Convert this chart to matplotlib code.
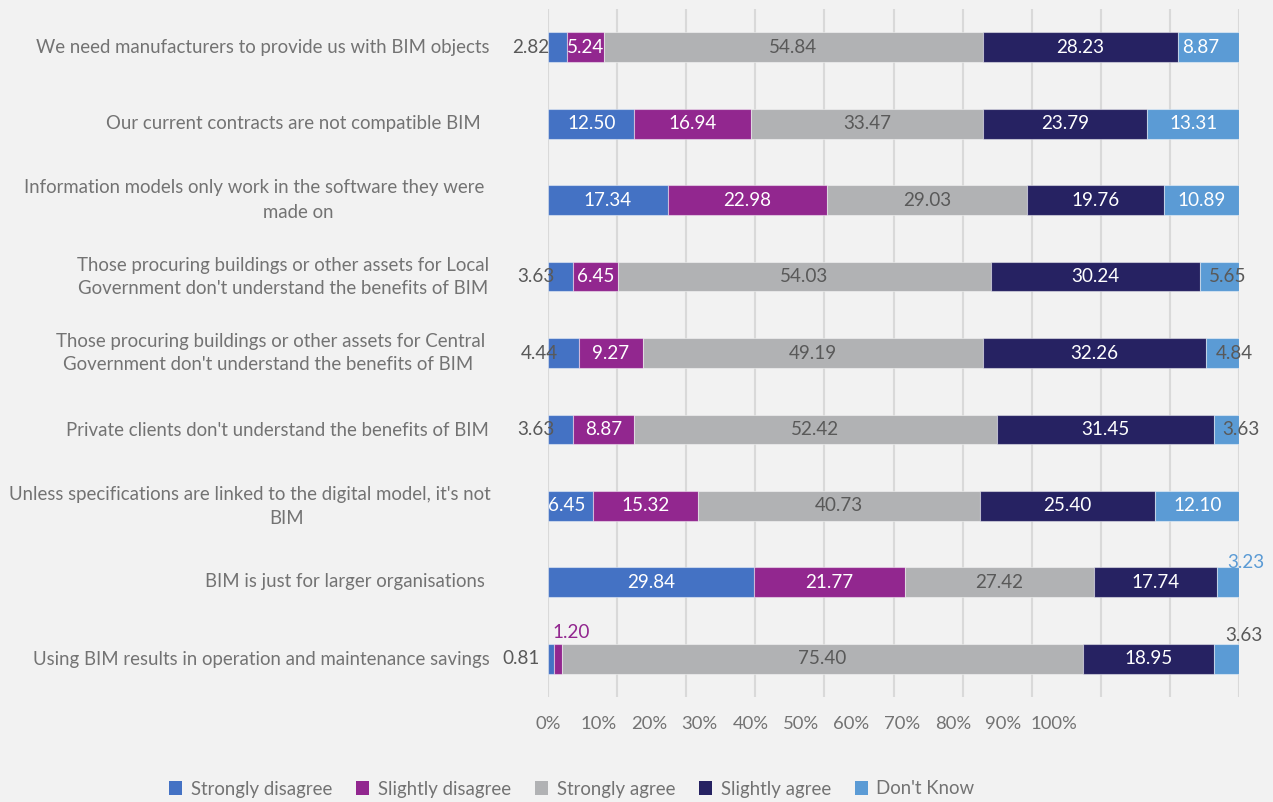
import numpy as np
import matplotlib
matplotlib.use("Agg")
import matplotlib.pyplot as plt
from matplotlib.patches import Patch

plt.rcParams['font.family'] = ['Lato', 'DejaVu Sans']

# ---- data -------------------------------------------------------------
categories = [
    "We need manufacturers to provide us with BIM objects",
    "Our current contracts are not compatible BIM",
    "Information models only work in the software they were\nmade on",
    "Those procuring buildings or other assets for Local\nGovernment don't understand the benefits of BIM",
    "Those procuring buildings or other assets for Central\nGovernment don't understand the benefits of BIM",
    "Private clients don't understand the benefits of BIM",
    "Unless specifications are linked to the digital model, it's not\nBIM",
    "BIM is just for larger organisations",
    "Using BIM results in operation and maintenance savings",
]
series_names = ["Strongly disagree", "Slightly disagree", "Strongly agree",
                "Slightly agree", "Don't Know"]
strongly_disagree = [2.82, 12.50, 17.34, 3.63, 4.44, 3.63, 6.45, 29.84, 0.81]
slightly_disagree = [5.24, 16.94, 22.98, 6.45, 9.27, 8.87, 15.32, 21.77, 1.20]
strongly_agree = [54.84, 33.47, 29.03, 54.03, 49.19, 52.42, 40.73, 27.42, 75.40]
slightly_agree = [28.23, 23.79, 19.76, 30.24, 32.26, 31.45, 25.40, 17.74, 18.95]
dont_know = [8.87, 13.31, 10.89, 5.65, 4.84, 3.63, 12.10, 3.23, 3.63]
tick_labels = ["0%", "10%", "20%", "30%", "40%", "50%", "60%", "70%", "80%", "90%", "100%"]

# ---- styling ----------------------------------------------------------
W, H = 1273, 802
BG = "#F2F2F2"
GRID = "#D9D9D9"
TEXT = "#737373"
DARK = "#595959"
colors = ["#4472C4", "#92278F", "#B1B2B4", "#262262", "#5B9BD5"]
label_colors = ["white", "white", DARK, "white", "white"]

fig = plt.figure(figsize=(W / 100, H / 100), dpi=100, facecolor=BG)


def fx(px):
    return px / W


def fy(py):
    return 1 - py / H


# plot area in pixel terms
x0, x1, y0, y1 = 548, 1239, 9, 697
ax = fig.add_axes([fx(x0), fy(y1), fx(x1 - x0), (y1 - y0) / H], facecolor=BG)

values = np.array([strongly_disagree, slightly_disagree, strongly_agree,
                   slightly_agree, dont_know])
n = len(categories)
ypos = np.arange(n)
left = np.zeros(n)
bars = []
for k in range(values.shape[0]):
    ax.barh(ypos, values[k], left=left, height=0.39, color=colors[k],
            edgecolor=(1, 1, 1, 0.45), linewidth=0.8, zorder=2)
    bars.append((left.copy(), values[k]))
    left = left + values[k]

ax.set_xlim(0, 100)
ax.set_ylim(n - 0.5, -0.5)
ax.set_xticks(np.arange(0, 101, 10))
ax.set_yticks([])
ax.xaxis.grid(True, color=GRID, linewidth=1.5, zorder=0)
ax.set_axisbelow(True)
ax.tick_params(axis='x', length=0, labelbottom=False)
for s in ax.spines.values():
    s.set_visible(False)

# data labels; a few small segments get their label nudged (offsets in px)
nudges = {
    (0, 0): (-27, 0, DARK),
    (0, 4): (-8, 0, "white"),
    (3, 0): (-25, 0, DARK),
    (3, 4): (8, 0, DARK),
    (4, 0): (-24, 0, DARK),
    (4, 4): (12, 0, DARK),
    (5, 0): (-25, 0, DARK),
    (5, 4): (14, 0, DARK),
    (6, 0): (-4, 0, "white"),
    (7, 4): (18, 20, colors[4]),
    (8, 0): (-30, 0, DARK),
    (8, 1): (13, 26, colors[1]),
    (8, 4): (17, 23, DARK),
}
LBL_SIZE = 13.6
for k, (lft, vals) in enumerate(bars):
    for i in range(n):
        xc = lft[i] + vals[i] / 2
        dx, dy, col = nudges.get((i, k), (0, 0, label_colors[k]))
        ax.annotate(f"{vals[i]:.2f}", xy=(xc, i), xytext=(dx * 0.72, dy * 0.72),
                    textcoords="offset points", ha="center", va="center",
                    color=col, fontsize=LBL_SIZE, zorder=5, annotation_clip=False)

# category labels (line placement: x anchor px, alignment)
CAT_SIZE = 13.4
row_y = [47, 124, 200, 277, 353, 430, 506, 582, 659]
line_layout = {
    0: [(490, "right")],
    1: [(481, "right")],
    2: [(484, "right"), (298, "center")],
    3: [(283, "center"), (283, "center")],
    4: [(271, "center"), (268, "center")],
    5: [(489, "right")],
    6: [(250, "center"), (287, "center")],
    7: [(485, "right")],
    8: [(490, "right")],
}
for i, label in enumerate(categories):
    lines = label.split("\n")
    for j, line in enumerate(lines):
        xa, ha = line_layout[i][j]
        yy = row_y[i] if len(lines) == 1 else row_y[i] + (j - 0.5) * 24
        fig.text(fx(xa), fy(yy), line, ha=ha, va="center", color=TEXT,
                 fontsize=CAT_SIZE)

# percentage scale labels under the plot
ax2 = fig.add_axes([fx(548), fy(724), fx(1054 - 548), 0.0001])
ax2.set_xlim(0, 1)
ax2.set_xticks(np.linspace(0, 1, len(tick_labels)))
ax2.set_xticklabels(tick_labels)
ax2.set_yticks([])
ax2.tick_params(axis='x', length=0, pad=0, labelsize=13.3, labelcolor=TEXT)
plt.setp(ax2.get_xticklabels(), va="center")
ax2.patch.set_visible(False)
for s in ax2.spines.values():
    s.set_visible(False)

# legend
handles = [Patch(facecolor=c, edgecolor='none') for c in colors]
fig.legend(handles, series_names, loc="center", bbox_to_anchor=(fx(572), fy(789)),
           ncol=5, frameon=False, fontsize=13.4, labelcolor=TEXT,
           handlelength=0.7, handleheight=0.7, handletextpad=0.45,
           columnspacing=1.3)

fig.savefig("out.png", dpi=100, facecolor=BG)
